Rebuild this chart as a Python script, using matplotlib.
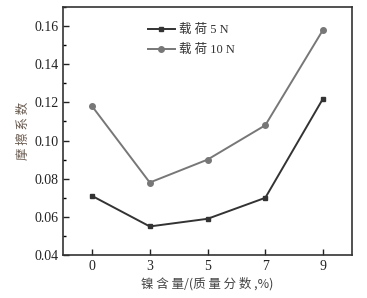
import matplotlib
matplotlib.use("Agg")
import matplotlib.pyplot as plt
from matplotlib.ticker import MultipleLocator

categories = ["0", "3", "5", "7", "9"]
load_5N = [0.071, 0.055, 0.059, 0.070, 0.122]
load_10N = [0.118, 0.078, 0.090, 0.108, 0.158]
series_labels = ["载 荷 5 N", "载 荷 10 N"]

fams = ["Liberation Serif", "Noto Sans CJK SC"]
plt.rcParams['font.family'] = fams

fig = plt.figure(figsize=(3.67, 2.98), dpi=100)
ax = fig.add_axes([0.172, 0.144, 0.787, 0.833])

x = list(range(len(categories)))
ax.plot(x, load_5N, color="#333333", marker="s", markersize=3.5, lw=1.4, label=series_labels[0])
ax.plot(x, load_10N, color="#777777", marker="o", markersize=4, lw=1.4, label=series_labels[1])

ax.set_xlim(-0.5, 4.5)
ax.set_ylim(0.04, 0.17)
ax.set_xticks(x)
ax.set_xticklabels(categories)
ax.yaxis.set_major_locator(MultipleLocator(0.02))
ax.yaxis.set_minor_locator(MultipleLocator(0.01))
ax.yaxis.set_major_formatter(matplotlib.ticker.FormatStrFormatter('%.2f'))
ax.tick_params(axis='both', direction='in', labelsize=10, colors="#222222", length=4, width=1)
ax.tick_params(axis='y', which='minor', direction='in', length=2.5, width=1)
for s in ax.spines.values():
    s.set_color("#333333")
    s.set_linewidth(1.2)

ax.set_xlabel("镍 含 量/(质 量 分 数 ,%)", fontsize=9, color="#444444", family=["Noto Sans CJK SC"], labelpad=3)
ax.set_ylabel("摩 擦 系 数", fontsize=9, color="#6a5a4e", family=["Noto Sans CJK SC"], labelpad=3)

leg = ax.legend(loc="upper left", bbox_to_anchor=(0.275, 0.95), frameon=False, fontsize=9,
                handlelength=2.2, handletextpad=0.3, labelspacing=0.6, borderaxespad=0)
for t in leg.get_texts():
    t.set_color("#333333")

fig.savefig("out.png", dpi=100)
